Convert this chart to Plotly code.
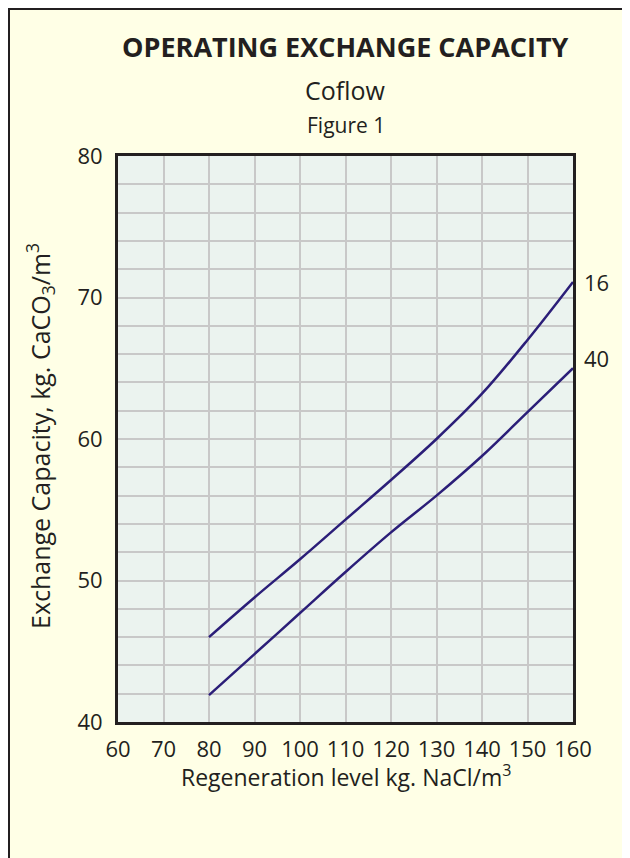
import plotly.graph_objects as go

# Data
regen_level = [80, 90, 100, 110, 120, 130, 140, 150, 160]
capacity_16 = [46.0, 48.8, 51.5, 54.3, 57.1, 60.0, 63.2, 67.0, 71.1]
capacity_40 = [41.9, 44.8, 47.7, 50.6, 53.4, 56.0, 58.8, 61.9, 65.0]
series_labels = ["16", "40"]
x_ticks = [60, 70, 80, 90, 100, 110, 120, 130, 140, 150, 160]
y_ticks = [40, 50, 60, 70, 80]

FONT = "Open Sans"
TXT = "#231f20"
LINE = "#2b1e78"

W, H = 630, 858
L, T = 110, 148
pw, ph = 455, 566
R, B = W - L - pw, H - T - ph

def px_x(p):
    return (p - L) / pw

def px_y(p):
    return (H - B - p) / ph

fig = go.Figure()
for name, ys in zip(series_labels, [capacity_16, capacity_40]):
    fig.add_trace(go.Scatter(x=regen_level, y=ys, mode="lines", name=name,
                             line=dict(color=LINE, width=2.5, shape="spline", smoothing=1.0),
                             showlegend=False, hoverinfo="skip"))

fig.update_layout(
    width=W, height=H,
    margin=dict(l=L, r=R, t=T, b=B),
    paper_bgcolor="#ffffe6",
    plot_bgcolor="#ebf3ef",
    font=dict(family=FONT, color=TXT, size=22),
    xaxis=dict(range=[60, 160], tickvals=x_ticks, showgrid=True, gridcolor="#c8c8c8", gridwidth=1.5,
               showline=True, linecolor="#231f20", linewidth=3, mirror=True, zeroline=False,
               ticks="", ticklabelstandoff=6, tickfont=dict(size=22, family=FONT, color=TXT)),
    yaxis=dict(range=[40, 80], tickvals=y_ticks, showgrid=True, gridcolor="#c8c8c8", gridwidth=1.5,
               minor=dict(dtick=2, tick0=40, showgrid=True, gridcolor="#c8c8c8", gridwidth=1.5),
               showline=True, linecolor="#231f20", linewidth=3, mirror=True, zeroline=False,
               ticks="", ticklabelstandoff=8, tickfont=dict(size=22, family=FONT, color=TXT)),
    shapes=[dict(type="rect", xref="paper", yref="paper", layer="below",
                 x0=px_x(1), x1=px_x(W - 1), y0=px_y(H - 1), y1=px_y(1),
                 fillcolor="rgba(0,0,0,0)", line=dict(color="#231f20", width=2))],
)

ann = [
    dict(text="<b>OPERATING EXCHANGE CAPACITY</b>", x=0.5, y=px_y(39), size=27),
    dict(text="Coflow", x=0.5, y=px_y(82), size=25),
    dict(text="Figure 1", x=0.5, y=px_y(117), size=21),
    dict(text="Regeneration level kg. NaCl/m<sup>3</sup>", x=0.5, y=px_y(768), size=23),
]
for a in ann:
    fig.add_annotation(text=a["text"], x=a["x"], y=a["y"], xref="paper", yref="paper",
                       showarrow=False, xanchor="center", yanchor="middle",
                       font=dict(size=a["size"], family=FONT, color=TXT))

fig.add_annotation(text="Exchange Capacity, kg. CaCO<sub>3</sub>/m<sup>3</sup>", textangle=-90,
                   x=px_x(32), y=px_y(428), xref="paper", yref="paper", showarrow=False,
                   xanchor="center", yanchor="middle", font=dict(size=25, family=FONT, color=TXT))

label_y = [capacity_16[-1], capacity_40[-1] + 0.7]
for name, yv in zip(series_labels, label_y):
    fig.add_annotation(text=name, x=160, y=yv, xref="x", yref="y", showarrow=False,
                       xanchor="left", yanchor="middle", xshift=9,
                       font=dict(size=22, family=FONT, color=TXT))

fig.write_html("out.html")
